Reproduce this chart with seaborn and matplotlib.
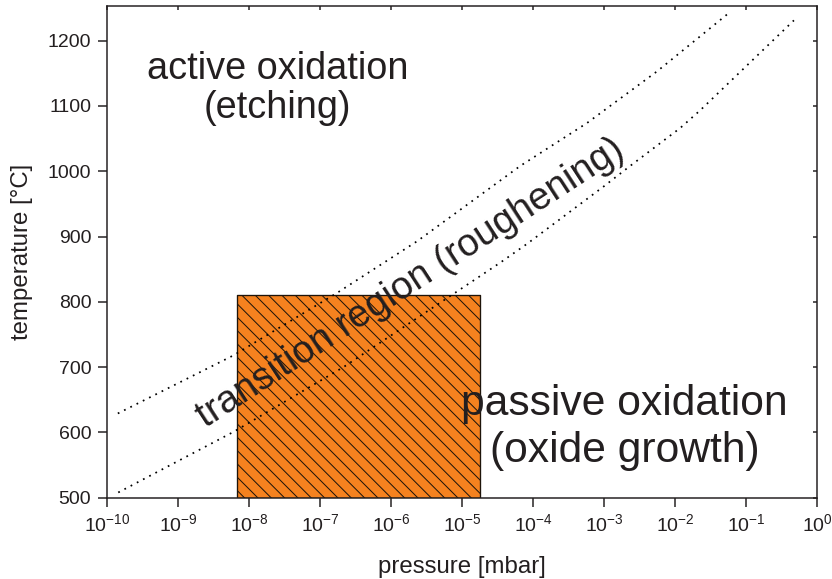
import numpy as np
import pandas as pd
import matplotlib
matplotlib.use("Agg")
import matplotlib.pyplot as plt
import matplotlib.ticker as mticker
import seaborn as sns

# Boundary between active oxidation and the transition regime
upper_pressure = [1.42e-10, 6.05e-9, 1.76e-7, 2.35e-6, 6.6e-5, 5.8e-4, 5.6e-3, 5.4e-2]
upper_temperature = [629, 718, 814, 893, 1008, 1074, 1153, 1240]

# Boundary between the transition regime and passive oxidation
lower_pressure = [1.44e-10, 6.1e-9, 2.14e-7, 7.55e-6, 3.46e-5, 8.3e-5,
                  1.0e-3, 2.33e-3, 1.18e-2, 2.25e-2, 0.473]
lower_temperature = [508, 601, 700, 812, 860, 889, 977, 1008, 1066, 1093, 1231]

# Accessible process window (hatched box)
window_pressure = [6.7e-9, 1.8e-5]
window_temperature = [500, 810]

x_ticks = [1e-10, 1e-9, 1e-8, 1e-7, 1e-6, 1e-5, 1e-4, 1e-3, 1e-2, 1e-1, 1e0]
y_ticks = [500, 600, 700, 800, 900, 1000, 1100, 1200]
x_limits = [1e-10, 1e0]
y_limits = [500, 1253]

DPI = 120
TEXT = "#231f20"

sns.set_style("ticks")
plt.rcParams["font.family"] = ["Liberation Sans", "DejaVu Sans"]
plt.rcParams["mathtext.fontset"] = "custom"
plt.rcParams["mathtext.rm"] = "Liberation Sans"
plt.rcParams["axes.unicode_minus"] = False
plt.rcParams["hatch.linewidth"] = 0.6
plt.rcParams["hatch.color"] = "black"

fig = plt.figure(figsize=(832 / DPI, 579 / DPI), dpi=DPI)
ax = fig.add_axes([107 / 832, 1 - 497.7 / 579, (817 - 107) / 832, (497.7 - 6) / 579])
ax.set_xscale("log")

# hatched window
ax.fill_between(window_pressure,
                [window_temperature[0]] * 2, [window_temperature[1]] * 2,
                facecolor="#f5821f", edgecolor="#1e140a", linewidth=0.8,
                hatch="\\\\\\", zorder=1)

upper = pd.DataFrame({"p": upper_pressure, "T": upper_temperature})
lower = pd.DataFrame({"p": lower_pressure, "T": lower_temperature})
for df in (upper, lower):
    sns.lineplot(data=df, x="p", y="T", ax=ax, sort=False, estimator=None,
                 color="black", linewidth=1.05, linestyle=(0, (1, 3)), zorder=2)

ax.set_xlim(*x_limits)
ax.set_ylim(*y_limits)
ax.xaxis.set_major_locator(mticker.FixedLocator(x_ticks))
ax.xaxis.set_major_formatter(mticker.LogFormatterSciNotation())
ax.xaxis.set_minor_locator(mticker.NullLocator())
ax.set_yticks(y_ticks)

ax.tick_params(axis="both", which="major", direction="out", length=5.4,
               width=0.9, colors=TEXT, labelsize=11.7, pad=4.2)
ax.tick_params(axis="y", pad=4)
for s in ax.spines.values():
    s.set_visible(True)
    s.set_linewidth(0.9)
    s.set_color(TEXT)

ax.set_xlabel("pressure [mbar]", fontsize=14.4, color=TEXT, labelpad=12)
ax.set_ylabel("temperature [°C]", fontsize=14.4, color=TEXT, labelpad=9)

# inward ticks on the top and right edges
top = ax.twiny()
top.set_xscale("log")
top.set_xlim(*x_limits)
top.xaxis.set_major_locator(mticker.FixedLocator(x_ticks))
top.xaxis.set_minor_locator(mticker.NullLocator())
top.tick_params(axis="x", direction="in", length=2.4, width=0.9, colors=TEXT,
                labeltop=False)
right = ax.twinx()
right.set_ylim(*y_limits)
right.set_yticks(y_ticks)
right.tick_params(axis="y", direction="in", length=2.4, width=0.9, colors=TEXT,
                  labelright=False)
for extra in (top, right):
    for s in extra.spines.values():
        s.set_visible(False)

ax.text(2.5e-8, 1127, "active oxidation\n(etching)", ha="center", va="center",
        multialignment="center", fontsize=22.7, color=TEXT, linespacing=1.1,
        zorder=3)
ax.text(1.95e-3, 608, "passive oxidation\n(oxide growth)", ha="center",
        va="center", multialignment="center", fontsize=25.6, color=TEXT,
        linespacing=1.22, zorder=3)
ax.text(1.875e-6, 829, "transition region (roughening)", ha="center",
        va="center", rotation=33, rotation_mode="anchor", fontsize=23,
        color=TEXT, zorder=3)

fig.savefig("out.png", dpi=DPI)
